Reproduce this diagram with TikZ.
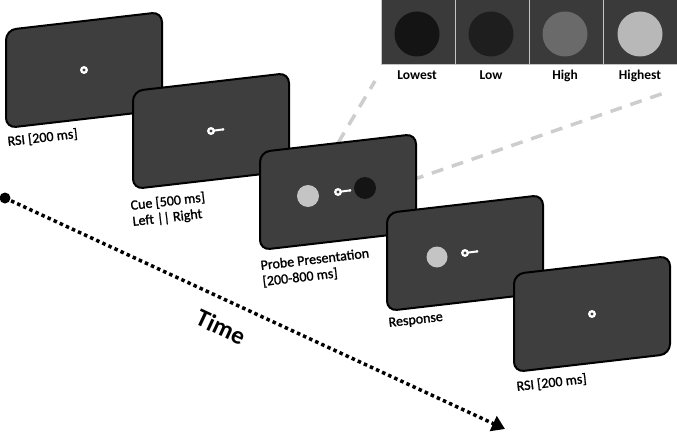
\documentclass[tikz,border=0pt]{standalone}
\usepackage{fontspec}
\setmainfont{Carlito}
\newfontfamily\semibold[FakeBold=1.3]{Carlito}
\usetikzlibrary{arrows.meta}
\definecolor{scr}{HTML}{3E3E3E}
\definecolor{panelbg}{HTML}{3A3A3A}
\definecolor{panelline}{HTML}{C4C4C4}
\definecolor{dashgray}{HTML}{CDCDCD}
\definecolor{lightdot}{HTML}{C4C4C4}
\definecolor{darkdot}{HTML}{141414}
\tikzset{
  screenbox/.style={fill=scr, draw=black, line width=2pt, rounded corners=10pt},
  screen/.pic={\path[screenbox] (0,0) -- (156,-18) -- (156,80) -- (0,98) -- cycle;},
  fixation/.pic={\fill[white] (0,0) circle (4); \fill[scr] (0,0) circle (1.6);},
  cuepic/.pic={\draw[white, line width=2pt, line cap=round] (0,0) -- (12,-1.6);
               \fill[white] (12,-1.6) circle (1.4);
               \fill[white] (0,0) circle (4); \fill[scr] (0,0) circle (1.6);},
  slab/.style={font=\fontsize{14}{16}\selectfont\semibold, anchor=base west, rotate=6.6, inner sep=0pt},
  plab/.style={font=\fontsize{13.5}{16}\selectfont\bfseries, anchor=base, inner sep=0pt},
  lev/.style={circle, inner sep=0pt, minimum size=45pt},
  stim/.style={circle, inner sep=0pt, minimum size=22pt},
  zoomline/.style={draw=dashgray, line width=3.5pt, dash pattern=on 12pt off 9pt},
  timeline/.style={line width=3.5pt, dash pattern=on 3.5pt off 3.2pt,
                   -{Triangle[length=13pt,width=16pt]}}
}
\begin{document}
\begin{tikzpicture}[x=1pt,y=-1pt]
\useasboundingbox (0,0) rectangle (677,433);

% time arrow
\coordinate (tstart) at (5,198);
\coordinate (tend) at (505,429);
\draw[timeline] (tstart) -- (tend);
\fill (tstart) circle (5.5);
\node[font=\fontsize{25}{28}\selectfont\bfseries, rotate=-25, inner sep=0pt] (time) at (221,327) {Time};

% magnifier panel
\fill[panelbg] (381,0) rectangle (677,65);
\draw[panelline, line width=1pt] (381,0) rectangle (677,65);
\foreach \x in {455,529,603} \draw[panelline, line width=1pt] (\x,0) -- (\x,65);
\node[lev, fill=darkdot] (c1) at (417,34) {};
\node[lev, fill={rgb,255:red,30;green,30;blue,30}] (c2) at (491,34) {};
\node[lev, fill={rgb,255:red,106;green,106;blue,106}] (c3) at (565,34) {};
\node[lev, fill={rgb,255:red,184;green,184;blue,184}] (c4) at (640,34) {};
\node[plab] (l1) at (417,80) {Lowest};
\node[plab] (l2) at (491,80) {Low};
\node[plab] (l3) at (565,80) {High};
\node[plab] (l4) at (640,80) {Highest};

% screens 1 and 2
\pic at (6,30) {screen};
\pic at (84,70) {fixation};
\node[slab] (rsi1) at (8,146) {RSI [200 ms]};

\pic at (133,91) {screen};
\pic at (211,131) {cuepic};
\node[slab] (cue1) at (131,210) {Cue [500 ms]};
\node[slab] (cue2) at (133,226) {Left || Right};

% zoom lines
\coordinate (za) at (338,143);
\coordinate (zb) at (375,81);
\coordinate (zc) at (412,180);
\coordinate (zd) at (667,92);
\draw[zoomline] (za) -- (zb);
\draw[zoomline] (zc) -- (zd);

% screen 3
\pic at (260,152) {screen};
\node[stim, fill=lightdot] (p1) at (308,196) {};
\node[stim, fill=darkdot] (p2) at (365,188) {};
\pic at (338,192) {cuepic};
\node[slab] (pr1) at (261,270) {Probe Presentation};
\node[slab] (pr2) at (263,286) {[200-800 ms]};

% screen 4
\pic at (387,213) {screen};
\node[stim, fill=lightdot, minimum size=21pt] (r1) at (437,257) {};
\pic at (465,253) {cuepic};
\node[slab] (resp) at (389,327) {Response};

% screen 5
\pic at (514,274) {screen};
\pic at (592,314) {fixation};
\node[slab] (rsi2) at (517,391) {RSI [200 ms]};
\end{tikzpicture}
\end{document}
